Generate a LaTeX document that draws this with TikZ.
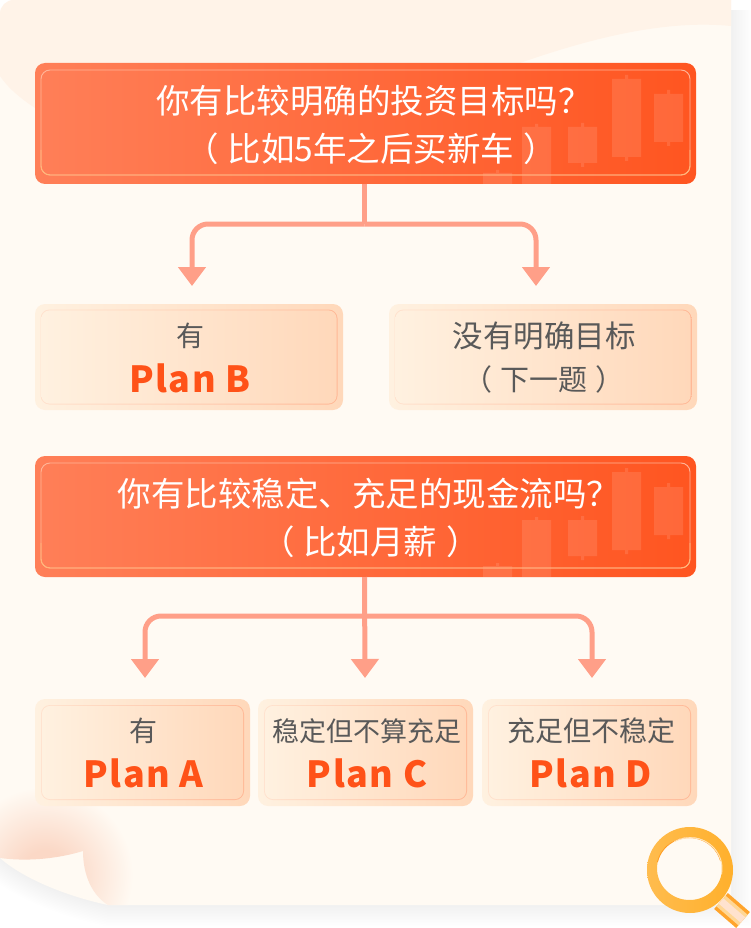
\documentclass[tikz,border=0pt]{standalone}
\usepackage{fontspec}
\setmainfont{Noto Sans CJK SC}
\newfontfamily\planfont[LetterSpace=4]{Noto Sans CJK SC}
\usetikzlibrary{arrows.meta}
\definecolor{paper}{HTML}{FFFAF3}
\definecolor{band}{HTML}{FFF3E8}
\definecolor{linkc}{HTML}{FF9F88}
\definecolor{plan}{HTML}{FF5218}
\definecolor{subt}{HTML}{595959}
\definecolor{qL}{HTML}{FF7F58}
\definecolor{qR}{HTML}{FF5520}
\definecolor{frameQ}{HTML}{FFB598}
\definecolor{frameG}{HTML}{FFB878}
\definecolor{plL}{HTML}{FFF1E0}
\definecolor{plR}{HTML}{FFD8BA}
\definecolor{framePL}{HTML}{FFE2CE}
\definecolor{framePR}{HTML}{FFB896}
\definecolor{ringL}{HTML}{FFBC4E}
\definecolor{ringR}{HTML}{FFB02C}
\definecolor{ringD}{HTML}{FF9A1E}
\definecolor{curl}{HTML}{FBD8C6}
\definecolor{shadowc}{HTML}{7A4A30}
\pgfdeclareradialshading{curlshade}{\pgfpoint{0bp}{0bp}}{color(0bp)=(curl); color(7bp)=(curl); color(25bp)=(paper); color(50bp)=(paper)}
\tikzset{
  qbox/.style={rounded corners=10pt,left color=qL,right color=qR,inner sep=0pt,minimum height=121pt,minimum width=661pt,draw=none},
  qframe/.style={rounded corners=9pt,draw=frameQ,line width=.9pt,inner sep=0pt,minimum width=649pt,minimum height=105pt,fill=none},
  plate/.style={rounded corners=10pt,left color=plL,right color=plR,inner sep=0pt,draw=none},
  plateframe/.style={rounded corners=9pt,left color=framePL,right color=framePR,inner sep=0pt,draw=none},
  plateinner/.style={rounded corners=8.2pt,left color=plL,right color=plR,inner sep=0pt,draw=none},
  qtext/.style={text=white,font=\fontsize{33.5}{33.5}\selectfont,inner sep=0pt,anchor=center},
  subtext/.style={text=subt,inner sep=0pt,anchor=center},
  plantext/.style={text=plan,font=\fontsize{36}{36}\planfont\bfseries,inner sep=0pt,anchor=center},
  link/.style={draw=linkc,line width=5pt,rounded corners=16pt,fill=none},
  tiplink/.style={link,-{Triangle[width=27pt,length=19pt,fill=linkc]}},
  candle/.style={fill=white,fill opacity=.11,draw=none},
}
\newcommand{\candlemark}[5]{%
  \fill[candle] (#1,#2) rectangle (#1+29,#3)
     (#1+13,#4) rectangle (#1+16,#2)
     (#1+13,#3) rectangle (#1+16,#5);}
\newcommand{\allcandles}{%
  \candlemark{612}{79}{157}{75}{161}
  \candlemark{654}{94}{142}{90}{146}
  \candlemark{568}{127}{163}{123}{167}
  \candlemark{522}{127}{190}{124}{190}
  \candlemark{483}{173}{190}{170}{190}}
\newcommand{\framedplate}[7]{% name, cx, cy, outer w, outer h, frame w, frame h
  \node[plate,minimum width=#4pt,minimum height=#5pt] (#1) at (#2,#3) {};
  \node[plateframe,minimum width=#6pt,minimum height=#7pt] (#1f) at (#2,#3) {};
  \node[plateinner,minimum width=#6pt-1.8pt,minimum height=#7pt-1.8pt] (#1i) at (#2,#3) {};}
\begin{document}
\begin{tikzpicture}[x=1pt,y=-1pt]
\useasboundingbox (0,0) rectangle (750,928);
\fill[white] (0,0) rectangle (750,928);
% paper shadow
\foreach \w in {3,6,...,42}
  \draw[shadowc,opacity=.0055,line width=\w pt] (0,858) .. controls (25,880) and (70,897) .. (108,905) -- (731,905) -- (731,10);
% paper
\path[fill=paper] (14,0) -- (717,0) arc[start angle=90,end angle=0,radius=14] -- (731,905) -- (108,905)
   .. controls (70,897) and (25,880) .. (0,858) -- (0,14) arc[start angle=180,end angle=270,radius=14] -- cycle;
% top band
\path[fill=band] (14,0) -- (717,0) arc[start angle=90,end angle=0,radius=14] -- (731,26)
   .. controls (670,20) and (600,35) .. (520,63) -- (300,140) -- (35,108)
   .. controls (20,98) and (8,88) .. (0,76) -- (0,14) arc[start angle=180,end angle=270,radius=14] -- cycle;
% page curl
\begin{scope}
  \clip (0,760) -- (0,858) .. controls (30,862) and (60,858) .. (83,851)
        .. controls (83,875) and (92,895) .. (108,905) -- (200,905) -- (200,760) -- cycle;
  \shade[shading=curlshade] (45,875) circle (88);
\end{scope}
% question 1
\node[qbox] (q1) at (365.5,123.5) {};
\begin{scope}
  \clip[rounded corners=10pt] (35,63) rectangle (696,184);
  \allcandles
\end{scope}
\node[qframe] (q1f) at (365.5,122.5) {};
\draw[frameG,line width=.9pt,rounded corners=9pt] (41,150) |- (690,175) -- (690,150);
\node[qtext] (q1a) at (374,101) {你有比较明确的投资目标吗？};
\node[qtext] (q1b) at (371,149) {（\hspace{9pt}比如5年之后买新车\hspace{9pt}）};
% question 2
\node[qbox] (q2) at (365.5,516.5) {};
\begin{scope}
  \clip[rounded corners=10pt] (35,456) rectangle (696,577);
  \begin{scope}[yshift=-393pt]
  \allcandles
  \end{scope}
\end{scope}
\node[qframe] (q2f) at (365.5,515.5) {};
\draw[frameG,line width=.9pt,rounded corners=9pt] (41,543) |- (690,568) -- (690,543);
\node[qtext] (q2a) at (369,494) {你有比较稳定、充足的现金流吗？};
\node[qtext] (q2b) at (370.5,542) {（\hspace{9pt}比如月薪\hspace{9pt}）};
% plates row 1
\framedplate{pb}{189}{357}{308}{106}{297}{95}
\node[subtext,font=\fontsize{28}{28}\selectfont] (pba) at (190,336) {有};
\node[plantext] (pbb) at (190,378) {Plan B};
\framedplate{ng}{543}{357}{308}{106}{297}{95}
\node[subtext,font=\fontsize{30.5}{30.5}\selectfont] (nga) at (544,336) {没有明确目标};
\node[subtext,font=\fontsize{29}{29}\selectfont] (ngb) at (544,379) {（\hspace{8pt}下一题\hspace{8pt}）};
% plates row 2
\framedplate{pa}{142.5}{752.5}{215}{107}{203}{95}
\node[subtext,font=\fontsize{28}{28}\selectfont] (paa) at (143,731) {有};
\node[plantext] (pab) at (143.5,773) {Plan A};
\framedplate{pc}{365.5}{752.5}{215}{107}{203}{95}
\node[subtext,font=\fontsize{27}{27}\selectfont] (pca) at (367,731) {稳定但不算充足};
\node[plantext] (pcb) at (367,773) {Plan C};
\framedplate{pd}{589.5}{752.5}{215}{107}{203}{95}
\node[subtext,font=\fontsize{28}{28}\selectfont] (pda) at (591,731) {充足但不稳定};
\node[plantext] (pdb) at (591,773) {Plan D};
% connector ends
\coordinate (t1) at (192,286);
\coordinate (t2) at (536,286);
\coordinate (t3) at (145,678);
\coordinate (t4) at (365,678);
\coordinate (t5) at (592,678);
\coordinate (s1) at (364.5,184);
\coordinate (s2) at (364.5,577);
\coordinate (j1) at (364.5,224);
\coordinate (j2) at (364.5,616);
% connectors
\draw[link] (s1) -- (j1);
\draw[tiplink] (j1) -| (t1);
\draw[tiplink] (j1) -| (t2);
\draw[tiplink] (j2) -| (t3);
\draw[tiplink] (s2) -- (t4);
\draw[tiplink] (j2) -| (t5);
% magnifier
\draw[line width=21pt,color=ringD!70!ringL] (721,901) -- (743,920);
\draw[line width=14pt,color=ringL!60!white] (721,901) -- (743,920);
\draw[line width=7pt,color=framePL] (721,901) -- (743,920);
\path[even odd rule,left color=ringL,right color=ringR] (690,870) ellipse[x radius=43,y radius=43] (689.5,868.5) ellipse[x radius=32.5,y radius=31.5];
\draw[ringD,line width=.8pt] (657.5,862) arc[start angle=193,end angle=345,x radius=32.5,y radius=31.5];
\draw[ringL!40!white,line width=1pt] (721.5,874) arc[start angle=10,end angle=-120,x radius=32,y radius=31];
\end{tikzpicture}
\end{document}
